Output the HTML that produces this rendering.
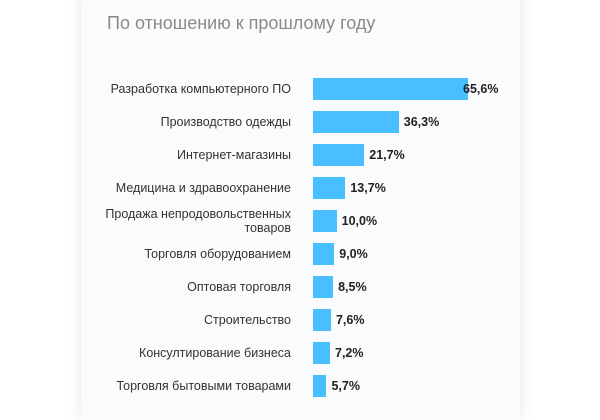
<!DOCTYPE html>
<html><head><meta charset="utf-8"><style>
body{margin:0;width:600px;height:400px;background:#fff;overflow:hidden;font-family:"Liberation Sans",sans-serif;position:relative}
#card{position:absolute;left:81px;top:-10px;width:439px;height:430px;background:#fafbfc;box-shadow:0 0 14px rgba(0,0,0,0.10)}
#title{position:absolute;left:100px;top:-33px;font-family:"Liberation Serif",serif;font-size:30px;color:#222;white-space:nowrap}
#sub{position:absolute;left:107px;top:13px;font-size:18px;color:#8a8a8a;white-space:nowrap}
.lbl{position:absolute;right:309px;font-size:12.5px;color:#333;text-align:right;line-height:14px}
.bar{position:absolute;height:22px;background:#49bfff}
.val{position:absolute;font-size:12.5px;font-weight:bold;color:#222;white-space:nowrap}
</style></head><body>
<div id="card"></div>
<div id="title">Рост</div>
<div id="sub">По отношению к прошлому году</div>
<div id="chart"></div>
<script>
const categories=["Разработка компьютерного ПО","Производство одежды","Интернет-магазины","Медицина и здравоохранение","Продажа непродовольственных<br>товаров","Торговля оборудованием","Оптовая торговля","Строительство","Консултирование бизнеса","Торговля бытовыми товарами"];
const values=[65.6,36.3,21.7,13.7,10.0,9.0,8.5,7.6,7.2,5.7];
const valueLabels=["65,6%","36,3%","21,7%","13,7%","10,0%","9,0%","8,5%","7,6%","7,2%","5,7%"];
const x0=313,scale=155/65.6,y0=89,step=33.0;
const xs=v=>v*scale, ys=i=>y0+i*step;
const c=document.getElementById('chart');
values.forEach((v,i)=>{
  const cy=ys(i);
  const l=document.createElement('div');l.className='lbl';
  
  
  l.innerHTML=categories[i];
  const two=categories[i].includes('<br>');
  l.style.top=(cy-(two?14:7))+'px';
  c.appendChild(l);
  const b=document.createElement('div');b.className='bar';
  
  
  b.style.left=x0+'px';b.style.top=(cy-11)+'px';b.style.width=xs(v)+'px';
  c.appendChild(b);
  const t=document.createElement('div');t.className='val';
  
  
  t.textContent=valueLabels[i];
  t.style.top=(cy-7)+'px';
  t.style.left=Math.min(x0+xs(v)+5,463)+'px';
  c.appendChild(t);
});
</script>
</body></html>
